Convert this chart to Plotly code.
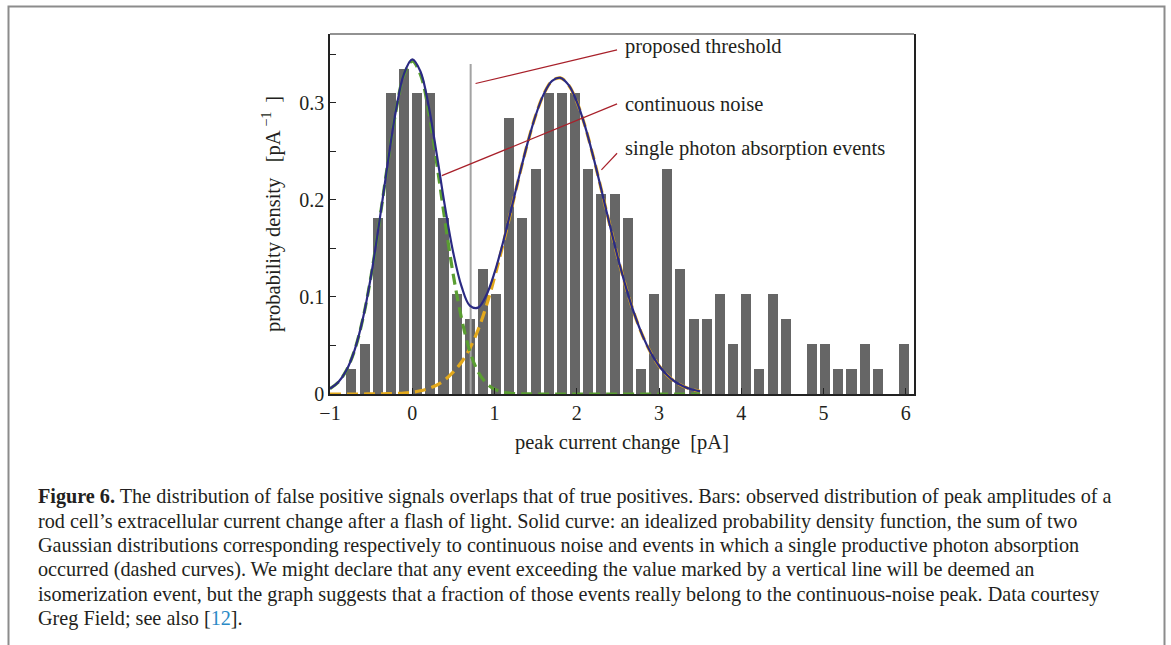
import plotly.graph_objects as go

# ---------------- data ----------------
bin_centers = [-0.74, -0.58, -0.42, -0.26, -0.10, 0.06, 0.22, 0.38, 0.54, 0.70,
               0.86, 1.02, 1.18, 1.34, 1.50, 1.66, 1.82, 1.98, 2.14, 2.30,
               2.46, 2.62, 2.78, 2.94, 3.10, 3.26, 3.42, 3.58, 3.74, 3.90,
               4.06, 4.22, 4.38, 4.54, 4.70, 4.86, 5.02, 5.18, 5.34, 5.50,
               5.66, 5.82, 5.98]
bar_density = [0.026, 0.052, 0.181, 0.310, 0.335, 0.310, 0.310, 0.181, 0.103, 0.077,
               0.129, 0.103, 0.284, 0.181, 0.232, 0.310, 0.310, 0.310, 0.232, 0.206,
               0.206, 0.181, 0.026, 0.103, 0.232, 0.129, 0.077, 0.077, 0.103, 0.052,
               0.103, 0.026, 0.103, 0.077, 0.000, 0.052, 0.052, 0.026, 0.026, 0.052,
               0.026, 0.000, 0.052]

curve_x = [-1.0, -0.9, -0.8, -0.7, -0.6, -0.5, -0.4, -0.3, -0.2, -0.1,
           0.0, 0.1, 0.2, 0.3, 0.4, 0.5, 0.6, 0.7, 0.8, 0.9,
           1.0, 1.1, 1.2, 1.3, 1.4, 1.5, 1.6, 1.7, 1.8, 1.9,
           2.0, 2.1, 2.2, 2.3, 2.4, 2.5, 2.6, 2.7, 2.8, 2.9,
           3.0, 3.1, 3.2, 3.3, 3.4, 3.5]
noise_curve = [0.0055, 0.0121, 0.0244, 0.0454, 0.0776, 0.1222, 0.1772, 0.2365, 0.2908, 0.3291,
               0.3430, 0.3291, 0.2908, 0.2365, 0.1772, 0.1222, 0.0776, 0.0440, 0.0230, 0.0112,
               0.0050, 0.0021, 0.0008, 0.0003, 0.0001, 0.0, 0.0, 0.0, 0.0, 0.0,
               0.0, 0.0, 0.0, 0.0, 0.0, 0.0, 0.0, 0.0, 0.0, 0.0,
               0.0, 0.0, 0.0, 0.0, 0.0, 0.0]
photon_curve = [0.0, 0.0, 0.0, 0.0, 0.0, 0.0001, 0.0001, 0.0003, 0.0006, 0.0010,
                0.0019, 0.0033, 0.0057, 0.0093, 0.0148, 0.0228, 0.0330, 0.0470, 0.0660, 0.0905,
                0.1200, 0.1530, 0.1885, 0.2243, 0.2579, 0.2870, 0.3093, 0.3226, 0.3258, 0.3185,
                0.3014, 0.2761, 0.2448, 0.2102, 0.1747, 0.1405, 0.1094, 0.0825, 0.0602, 0.0425,
                0.0291, 0.0193, 0.0124, 0.0077, 0.0046, 0.0027]
total_curve = [0.0055, 0.0121, 0.0244, 0.0454, 0.0777, 0.1223, 0.1773, 0.2368, 0.2914, 0.3301,
               0.3449, 0.3324, 0.2965, 0.2458, 0.1920, 0.1450, 0.1106, 0.0910, 0.0890, 0.1017,
               0.1250, 0.1551, 0.1893, 0.2246, 0.2580, 0.2870, 0.3093, 0.3226, 0.3258, 0.3185,
               0.3014, 0.2761, 0.2448, 0.2102, 0.1747, 0.1405, 0.1094, 0.0825, 0.0602, 0.0425,
               0.0291, 0.0193, 0.0124, 0.0077, 0.0046, 0.0027]

threshold_x = 0.71
threshold_top = 0.34

x_ticks = [-1, 0, 1, 2, 3, 4, 5, 6]
y_ticks = [0, 0.1, 0.2, 0.3]

labels = ["proposed threshold", "continuous noise", "single photon absorption events"]
label_y = [0.3577, 0.2990, 0.2525]
label_x = 2.56
# leader lines: (x0, y0) -> (x1, y1)
leader_start_x = [0.77, 0.36, 2.30]
leader_start_y = [0.320, 0.225, 0.231]
leader_end_x = [2.49, 2.49, 2.49]
leader_end_y = [0.3546, 0.299, 0.2481]

caption_lines = [
    "<b>Figure 6.</b> The distribution of false positive signals overlaps that of true positives. Bars: observed distribution of peak amplitudes of a",
    "rod cell\u2019s extracellular current change after a flash of light. Solid curve: an idealized probability density function, the sum of two",
    "Gaussian distributions corresponding respectively to continuous noise and events in which a single productive photon absorption",
    "occurred (dashed curves). We might declare that any event exceeding the value marked by a vertical line will be deemed an",
    "isomerization event, but the graph suggests that a fraction of those events really belong to the continuous-noise peak. Data courtesy",
    "Greg Field; see also [<span style='color:#2b8ac6'>12</span>].",
]

# ---------------- figure ----------------
FONT = "Liberation Serif, Times New Roman, serif"
TXT = "#231f20"
LABEL_SIZE = 20.5
TICK_SIZE = 20
CAP_SIZE = 20.2

W, H = 1171, 645
L, R, T, B = 330, 914, 34, 394   # plot-area pixel box


def px_x(p):
    return (p - L) / (R - L)


def px_y(p):
    return (B - p) / (B - T)


fig = go.Figure()

fig.add_trace(go.Bar(x=bin_centers, y=bar_density, width=0.122,
                     marker=dict(color="#666666", line=dict(width=0)),
                     showlegend=False, hoverinfo="skip"))

fig.add_trace(go.Scatter(x=[threshold_x, threshold_x], y=[0, threshold_top], mode="lines",
                         line=dict(color="#a3a3a3", width=2), showlegend=False, hoverinfo="skip"))

fig.add_trace(go.Scatter(x=curve_x, y=photon_curve, mode="lines",
                         line=dict(color="#e3a91c", width=3.2, dash="11px,6px", shape="spline"),
                         showlegend=False, hoverinfo="skip"))
fig.add_trace(go.Scatter(x=curve_x, y=noise_curve, mode="lines",
                         line=dict(color="#5a9e32", width=3.2, dash="11px,6px", shape="spline"),
                         showlegend=False, hoverinfo="skip"))
fig.add_trace(go.Scatter(x=curve_x, y=total_curve, mode="lines",
                         line=dict(color="#2b2a82", width=2.2, shape="spline"),
                         showlegend=False, hoverinfo="skip"))

shapes = []
for x0, y0, x1, y1 in zip(leader_start_x, leader_start_y, leader_end_x, leader_end_y):
    shapes.append(dict(type="line", xref="x", yref="y", x0=x0, y0=y0, x1=x1, y1=y1,
                       line=dict(color="#a8202a", width=1.2)))
# top frame line (gray)
shapes.append(dict(type="line", xref="paper", yref="paper", x0=0, x1=1, y0=1, y1=1,
                   line=dict(color="#6e6e6e", width=1.5)))
# outer page frame
shapes.append(dict(type="rect", xref="paper", yref="paper",
                   x0=px_x(8.5), x1=px_x(1164.5), y0=px_y(700), y1=px_y(6.5),
                   line=dict(color="#8c8c8c", width=2), fillcolor="rgba(0,0,0,0)", layer="below"))

annotations = []
for t, ly in zip(labels, label_y):
    annotations.append(dict(x=label_x, y=ly, xref="x", yref="y", text=t, showarrow=False,
                            xanchor="left", yanchor="middle",
                            font=dict(family=FONT, size=LABEL_SIZE, color=TXT)))

cap_top = 497
for i, line in enumerate(caption_lines):
    annotations.append(dict(x=px_x(36), y=px_y(cap_top + i * 24.3), xref="paper", yref="paper",
                            text=line, showarrow=False, xanchor="left", yanchor="middle",
                            font=dict(family=FONT, size=CAP_SIZE, color=TXT)))

fig.update_layout(
    width=W, height=H,
    margin=dict(l=L, r=W - R, t=T, b=H - B, pad=0),
    paper_bgcolor="white", plot_bgcolor="white",
    font=dict(family=FONT, size=TICK_SIZE, color=TXT),
    showlegend=False,
    bargap=0,
    shapes=shapes,
    annotations=annotations,
    xaxis=dict(range=[-1, 6.1], tickvals=x_ticks, ticks="inside", ticklen=6, tickwidth=1,
               tickcolor="#222", showline=True, linecolor="#222", linewidth=1.5, mirror=False,
               showgrid=False, zeroline=False, tickfont=dict(family=FONT, size=TICK_SIZE, color=TXT),
               title=dict(text="peak current change  [pA]", standoff=12,
                          font=dict(family=FONT, size=LABEL_SIZE, color=TXT))),
    yaxis=dict(range=[0, 0.371], tickvals=y_ticks, ticks="inside", ticklen=6, tickwidth=1,
               tickcolor="#222", showline=True, linecolor="#222", linewidth=1.5, mirror=True,
               showgrid=False, zeroline=False, tickfont=dict(family=FONT, size=TICK_SIZE, color=TXT),
               minor=dict(tickvals=[0.05, 0.15, 0.25, 0.35], ticks="inside", ticklen=6,
                          tickcolor="#222", showgrid=False),
               title=dict(text="probability density\u00a0\u00a0\u00a0[pA<sup>\u00a0\u22121\u00a0</sup>\u00a0]",
                          standoff=13,
                          font=dict(family=FONT, size=LABEL_SIZE, color=TXT))),
)

fig.write_html("out.html")
